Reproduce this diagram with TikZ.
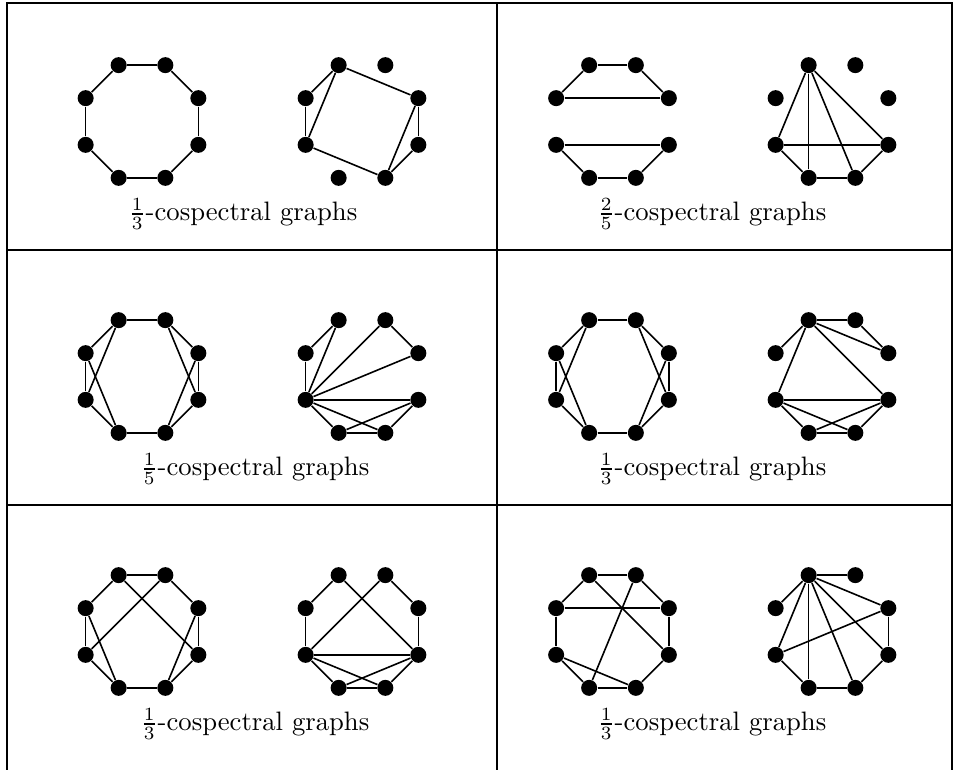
\documentclass[tikz,border=0pt]{standalone}
\usepackage{amsmath,amssymb}
\usepackage{tikz}
\usetikzlibrary{positioning}

\tikzset{
  vtx/.style={circle, fill=black, inner sep=0pt, minimum size=6pt},
  edge/.style={line width=0.6pt},
  rule/.style={line width=0.4pt},
  caption/.style={font=\normalsize}
}

% one graph on the eight corners of an octagon
\newcommand{\octgraph}[4]{%
  \begin{scope}[shift={(#1,#2)}, name prefix=#3-]
    \foreach \k in {1,...,8}
      \node[vtx] (v\k) at ({45*(\k-1)-112.5}:\rr) {};
    \foreach \a/\b in {#4}
      \draw[edge] (v\a) -- (v\b);
  \end{scope}}

\begin{document}
\begin{tikzpicture}[x=0.375pt, y=-0.375pt]
  \def\rr{61}  % octagon radius
  \useasboundingbox (0,0) rectangle (955,770);

  % ---- table rules ----
  \draw[rule] (7,770) -- (7,3) -- (952,3) -- (952,770);
  \draw[rule] (497,3) -- (497,770);
  \draw[rule] (7,250) -- (952,250);
  \draw[rule] (7,505) -- (952,505);

  % ---- row 1 ----
  \octgraph{142}{121.5}{ga}{1/2,2/3,3/4,4/5,5/6,6/7,7/8,8/1}
  \octgraph{362}{121.5}{gb}{1/8,8/7,1/7,1/3,3/4,3/5,4/5,7/5}
  \octgraph{612.5}{121.5}{gc}{1/2,2/3,8/3,1/8,7/4,7/6,6/5,5/4}
  \octgraph{832}{121.5}{gd}{1/7,1/6,1/5,1/4,7/4,7/6,6/5,5/4}
  \node[caption] (capa) at (243,214) {$\frac{1}{3}$-cospectral graphs};
  \node[caption] (capb) at (712,214) {$\frac{2}{5}$-cospectral graphs};

  % ---- row 2 ----
  \octgraph{142}{376.5}{ge}{1/2,1/8,1/7,8/7,8/6,7/6,6/5,2/3,2/4,3/4,3/5,4/5}
  \octgraph{362}{376.5}{gf}{1/8,1/7,8/7,2/7,2/3,3/7,7/4,7/6,7/5,6/5,6/4,4/5}
  \octgraph{612.5}{376.5}{gg}{1/2,1/8,1/7,8/7,8/6,7/6,6/5,2/3,2/4,3/4,3/5,4/5}
  \octgraph{832}{376.5}{gh}{1/2,1/8,1/3,2/3,1/7,1/4,7/4,7/6,7/5,6/5,6/4,4/5}
  \node[caption] (capc) at (255,469) {$\frac{1}{5}$-cospectral graphs};
  \node[caption] (capd) at (712,469) {$\frac{1}{3}$-cospectral graphs};

  % ---- row 3 ----
  \octgraph{142}{631.5}{gi}{1/2,1/8,1/4,2/7,2/3,8/7,8/6,7/6,6/5,3/4,3/5,4/5}
  \octgraph{362}{631.5}{gj}{1/8,1/4,2/7,2/3,8/7,3/4,7/4,7/6,7/5,6/5,6/4,4/5}
  \octgraph{612.5}{631.5}{gk}{1/2,1/8,1/4,2/3,2/6,8/3,8/7,3/4,7/6,7/5,6/5,4/5}
  \octgraph{832}{631.5}{gl}{1/2,1/8,1/7,1/6,1/5,1/4,1/3,3/7,3/4,7/6,6/5,5/4}
  \node[caption] (cape) at (255,724) {$\frac{1}{3}$-cospectral graphs};
  \node[caption] (capf) at (712,724) {$\frac{1}{3}$-cospectral graphs};
\end{tikzpicture}
\end{document}
